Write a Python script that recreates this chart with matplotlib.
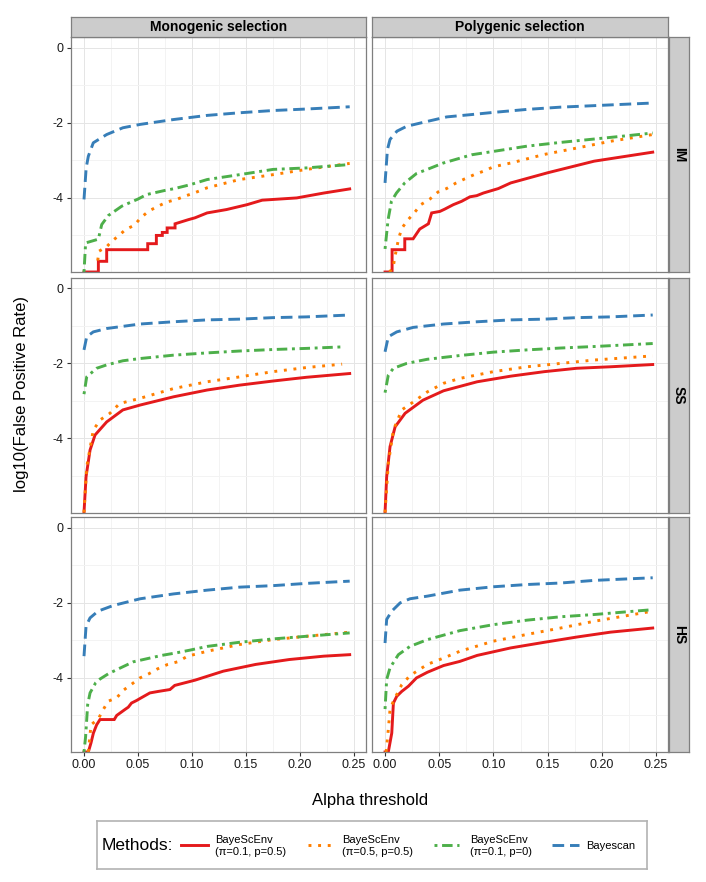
import numpy as np
import matplotlib
matplotlib.use('Agg')
import matplotlib.pyplot as plt
from matplotlib.lines import Line2D

plt.rcParams['font.family'] = ['Liberation Sans', 'DejaVu Sans']

NINF = -np.inf  # log10(0): drawn at the bottom edge of the panel

row_names = ['IM', 'SS', 'HS']
col_names = ['Monogenic selection', 'Polygenic selection']
method_keys = ['pi01_p05', 'pi05_p05', 'pi01_p0', 'bayescan']
method_labels = ['BayeScEnv\n(\u03c0=0.1, p=0.5)', 'BayeScEnv\n(\u03c0=0.5, p=0.5)',
                 'BayeScEnv\n(\u03c0=0.1, p=0)', 'Bayescan']

# ---- IM, monogenic ----
im_mono_pi01_p05_x = [0, 0.0133, 0.0133, 0.021, 0.021, 0.059, 0.059, 0.067, 0.067, 0.0725, 0.0725, 0.077,
                      0.077, 0.0843, 0.0843, 0.0966, 0.1028, 0.114, 0.132, 0.151, 0.165, 0.197, 0.222, 0.246]
im_mono_pi01_p05_y = [NINF, NINF, -5.69, -5.69, -5.38, -5.38, -5.22, -5.22, -5.0, -5.0, -4.92, -4.92,
                      -4.8, -4.8, -4.69, -4.58, -4.53, -4.4, -4.31, -4.18, -4.06, -4.0, -3.87, -3.76]
im_mono_pi05_p05_x = [0.0127, 0.0139, 0.021, 0.026, 0.0324, 0.0386, 0.0466, 0.0525, 0.06, 0.068, 0.0765,
                      0.0858, 0.0935, 0.101, 0.114, 0.144, 0.175, 0.206, 0.246]
im_mono_pi05_p05_y = [-5.67, -5.42, -5.3, -5.15, -5.0, -4.84, -4.73, -4.53, -4.35, -4.23, -4.11,
                      -4.04, -3.95, -3.88, -3.73, -3.51, -3.38, -3.24, -3.08]
im_mono_pi01_p0_x = [0, 0.0015, 0.0133, 0.0164, 0.0225, 0.035, 0.05, 0.058, 0.075, 0.084, 0.098,
                     0.114, 0.144, 0.175, 0.206, 0.246]
im_mono_pi01_p0_y = [NINF, -5.2, -5.1, -4.71, -4.47, -4.22, -4.03, -3.91, -3.8, -3.75, -3.65,
                     -3.51, -3.38, -3.24, -3.2, -3.11]
im_mono_bayescan_x = [0, 0.002, 0.004, 0.0086, 0.021, 0.036, 0.052, 0.083, 0.114, 0.144, 0.175, 0.206, 0.246]
im_mono_bayescan_y = [-4.04, -3.2, -2.89, -2.53, -2.31, -2.13, -2.04, -1.91, -1.8, -1.73, -1.67, -1.63, -1.57]

# ---- IM, polygenic ----
im_poly_pi01_p05_x = [0, 0.0065, 0.0065, 0.0182, 0.0182, 0.0259, 0.032, 0.040, 0.043, 0.0506, 0.055,
                      0.063, 0.0707, 0.0784, 0.0846, 0.0907, 0.1046, 0.116, 0.15, 0.193, 0.247]
im_poly_pi01_p05_y = [NINF, NINF, -5.38, -5.38, -5.09, -5.09, -4.83, -4.69, -4.4, -4.36, -4.3,
                      -4.18, -4.09, -3.97, -3.94, -3.87, -3.75, -3.6, -3.33, -3.02, -2.78]
im_poly_pi05_p05_x = [0.004, 0.0074, 0.0089, 0.0126, 0.0157, 0.0207, 0.0269, 0.033, 0.0414, 0.049, 0.0568,
                      0.065, 0.0737, 0.083, 0.0916, 0.1, 0.116, 0.147, 0.177, 0.208, 0.247]
im_poly_pi05_p05_y = [NINF, -5.87, -5.6, -5.07, -4.8, -4.6, -4.4, -4.18, -4.03, -3.84, -3.75,
                      -3.61, -3.49, -3.37, -3.28, -3.17, -3.07, -2.84, -2.67, -2.49, -2.31]
im_poly_pi01_p0_x = [0, 0.0028, 0.0059, 0.0105, 0.0182, 0.029, 0.0398, 0.0537, 0.0799, 0.1, 0.131,
                     0.162, 0.193, 0.224, 0.247]
im_poly_pi01_p0_y = [-5.36, -4.58, -4.09, -3.87, -3.6, -3.35, -3.23, -3.07, -2.85, -2.76, -2.62,
                     -2.52, -2.43, -2.34, -2.27]
im_poly_bayescan_x = [0, 0.0022, 0.0046, 0.011, 0.02, 0.039, 0.057, 0.079, 0.1, 0.131, 0.162, 0.193, 0.247]
im_poly_bayescan_y = [-3.6, -2.71, -2.44, -2.22, -2.09, -1.96, -1.84, -1.78, -1.72, -1.64, -1.58, -1.54, -1.47]

# ---- SS, monogenic ----
ss_mono_pi01_p05_x = [0, 0.0019, 0.0056, 0.0102, 0.021, 0.036, 0.052, 0.083, 0.114, 0.144, 0.175, 0.206, 0.246]
ss_mono_pi01_p05_y = [NINF, -5.02, -4.31, -3.91, -3.56, -3.24, -3.11, -2.89, -2.71, -2.58, -2.47, -2.37, -2.27]
ss_mono_pi05_p05_x = [0, 0.0025, 0.0086, 0.0148, 0.024, 0.033, 0.052, 0.083, 0.114, 0.144, 0.175, 0.206, 0.239]
ss_mono_pi05_p05_y = [NINF, -4.76, -3.78, -3.51, -3.33, -3.07, -2.93, -2.67, -2.49, -2.36, -2.22, -2.11, -2.02]
ss_mono_pi01_p0_x = [0, 0.0025, 0.0117, 0.021, 0.036, 0.052, 0.083, 0.114, 0.144, 0.175, 0.206, 0.239]
ss_mono_pi01_p0_y = [-2.82, -2.36, -2.13, -2.04, -1.93, -1.87, -1.78, -1.72, -1.67, -1.63, -1.6, -1.56]
ss_mono_bayescan_x = [0, 0.0025, 0.0086, 0.021, 0.052, 0.083, 0.114, 0.144, 0.175, 0.206, 0.246]
ss_mono_bayescan_y = [-1.64, -1.29, -1.16, -1.07, -0.95, -0.89, -0.84, -0.82, -0.78, -0.76, -0.71]

# ---- SS, polygenic ----
ss_poly_pi01_p05_x = [0, 0.0015, 0.0046, 0.0093, 0.0185, 0.035, 0.054, 0.085, 0.116, 0.147, 0.177, 0.208, 0.247]
ss_poly_pi01_p05_y = [NINF, -5.02, -4.22, -3.69, -3.33, -2.98, -2.73, -2.49, -2.34, -2.22, -2.13, -2.09, -2.03]
ss_poly_pi05_p05_x = [0, 0.003, 0.0077, 0.0154, 0.025, 0.039, 0.054, 0.069, 0.1, 0.131, 0.162, 0.193, 0.247]
ss_poly_pi05_p05_y = [NINF, -4.67, -3.78, -3.24, -3.05, -2.76, -2.53, -2.4, -2.22, -2.09, -2.0, -1.91, -1.8]
ss_poly_pi01_p0_x = [0, 0.003, 0.0077, 0.02, 0.039, 0.069, 0.1, 0.131, 0.162, 0.193, 0.247]
ss_poly_pi01_p0_y = [-2.78, -2.31, -2.13, -2.0, -1.89, -1.79, -1.7, -1.64, -1.59, -1.55, -1.47]
ss_poly_bayescan_x = [0, 0.003, 0.0108, 0.026, 0.054, 0.085, 0.116, 0.147, 0.177, 0.208, 0.247]
ss_poly_bayescan_y = [-1.69, -1.29, -1.16, -1.04, -0.95, -0.89, -0.84, -0.82, -0.78, -0.76, -0.71]

# ---- HS, monogenic ----
hs_mono_pi01_p05_x = [0, 0.004, 0.0065, 0.0087, 0.0117, 0.0148, 0.028, 0.0303, 0.038, 0.041, 0.044, 0.0488,
                      0.053, 0.061, 0.0688, 0.0796, 0.084, 0.1028, 0.129, 0.159, 0.19, 0.222, 0.246]
hs_mono_pi01_p05_y = [NINF, NINF, -5.73, -5.47, -5.25, -5.11, -5.11, -5.0, -4.84, -4.78, -4.67, -4.6,
                      -4.53, -4.4, -4.36, -4.31, -4.2, -4.06, -3.82, -3.64, -3.51, -3.42, -3.38]
hs_mono_pi05_p05_x = [0.004, 0.0065, 0.0133, 0.0179, 0.0225, 0.0303, 0.0364, 0.0435, 0.0518, 0.06, 0.068,
                      0.0775, 0.0867, 0.096, 0.114, 0.144, 0.175, 0.206, 0.246]
hs_mono_pi05_p05_y = [NINF, -5.25, -5.09, -4.84, -4.62, -4.53, -4.33, -4.18, -4.0, -3.89, -3.76,
                      -3.64, -3.57, -3.42, -3.29, -3.11, -2.98, -2.89, -2.78]
hs_mono_pi01_p0_x = [0, 0.0015, 0.0024, 0.0034, 0.0056, 0.0108, 0.0148, 0.0225, 0.0318, 0.0457, 0.058,
                     0.0719, 0.0858, 0.098, 0.114, 0.144, 0.175, 0.206, 0.246]
hs_mono_pi01_p0_y = [NINF, -5.56, -5.16, -4.71, -4.4, -4.13, -4.03, -3.89, -3.76, -3.57, -3.49,
                     -3.4, -3.33, -3.26, -3.16, -3.05, -2.96, -2.89, -2.8]
hs_mono_bayescan_x = [0, 0.0019, 0.0056, 0.013, 0.027, 0.052, 0.083, 0.114, 0.144, 0.175, 0.206, 0.246]
hs_mono_bayescan_y = [-3.42, -2.62, -2.4, -2.22, -2.07, -1.89, -1.76, -1.66, -1.58, -1.54, -1.48, -1.42]

# ---- HS, polygenic ----
hs_poly_pi01_p05_x = [0, 0.003, 0.0062, 0.0077, 0.0108, 0.0154, 0.0216, 0.029, 0.039, 0.054, 0.069,
                      0.085, 0.116, 0.147, 0.177, 0.208, 0.247]
hs_poly_pi01_p05_y = [NINF, NINF, -5.47, -4.67, -4.49, -4.36, -4.22, -4.0, -3.85, -3.67, -3.56,
                      -3.4, -3.2, -3.05, -2.91, -2.78, -2.67]
hs_poly_pi05_p05_x = [0.001, 0.003, 0.0046, 0.0077, 0.0154, 0.023, 0.039, 0.054, 0.069, 0.1, 0.131,
                      0.162, 0.193, 0.247]
hs_poly_pi05_p05_y = [NINF, -5.38, -4.84, -4.62, -4.18, -3.94, -3.64, -3.47, -3.29, -3.02, -2.84,
                      -2.67, -2.49, -2.22]
hs_poly_pi01_p0_x = [0, 0.0015, 0.0046, 0.0123, 0.023, 0.039, 0.069, 0.1, 0.131, 0.162, 0.193, 0.247]
hs_poly_pi01_p0_y = [-4.83, -4.04, -3.73, -3.38, -3.16, -2.98, -2.74, -2.58, -2.46, -2.37, -2.31, -2.18]
hs_poly_bayescan_x = [0, 0.0015, 0.0062, 0.0139, 0.023, 0.039, 0.069, 0.1, 0.131, 0.162, 0.193, 0.247]
hs_poly_bayescan_y = [-3.07, -2.44, -2.22, -2.0, -1.89, -1.82, -1.66, -1.57, -1.51, -1.47, -1.4, -1.33]

series = {}
g = globals()
for r in ['im', 'ss', 'hs']:
    for c in ['mono', 'poly']:
        for m in method_keys:
            series[(r, c, m)] = (g[f'{r}_{c}_{m}_x'], g[f'{r}_{c}_{m}_y'])

# ---- styling ----
colors = {'pi01_p05': '#E41A1C', 'pi05_p05': '#FF7F00', 'pi01_p0': '#4DAF4A', 'bayescan': '#377EB8'}
styles = {'pi01_p05': '-', 'pi05_p05': (0, (1, 2.3)), 'pi01_p0': (0, (1, 1.6, 3.6, 1.6)),
          'bayescan': (0, (4, 2))}
LW = 2.1
XLIM = (-0.01204, 0.26111)
YLIM = (-5.975, 0.29)
BORDER = '#7F7F7F'

W, H = 706, 882
fig = plt.figure(figsize=(W / 100, H / 100), dpi=100)


def px_axes(x0, y0, x1, y1):
    return fig.add_axes([x0 / W, 1 - y1 / H, (x1 - x0) / W, (y1 - y0) / H])


col_px = [(71, 366), (372, 668)]
row_px = [(37, 272), (277.5, 512.5), (517, 752)]

for i, r in enumerate(['im', 'ss', 'hs']):
    for j, c in enumerate(['mono', 'poly']):
        x0, x1 = col_px[j]
        y0, y1 = row_px[i]
        ax = px_axes(x0, y0, x1, y1)
        ax.set_xlim(*XLIM)
        ax.set_ylim(*YLIM)
        ax.set_xticks(np.arange(0, 0.2501, 0.05))
        ax.set_xticks(np.arange(0.025, 0.26, 0.05), minor=True)
        ax.set_yticks([-4, -2, 0])
        ax.set_yticks([-5, -3, -1], minor=True)
        ax.grid(which='major', color='#E5E5E5', lw=0.7)
        ax.grid(which='minor', color='#F3F3F3', lw=0.7)
        ax.set_axisbelow(True)
        for sp in ax.spines.values():
            sp.set_color(BORDER)
            sp.set_linewidth(0.9)
        ax.tick_params(which='minor', length=0)
        ax.tick_params(which='major', length=3.2, width=0.8, color='#333333',
                       labelsize=9, labelcolor='#1A1A1A', pad=2)
        if j == 0:
            ax.set_yticklabels(['-4', '-2', '0'])
        else:
            ax.tick_params(axis='y', which='major', length=0, labelleft=False)
        if i == 2:
            ax.set_xticklabels([f'{v:.2f}' for v in np.arange(0, 0.2501, 0.05)])
        else:
            ax.tick_params(axis='x', which='major', length=0, labelbottom=False)

        for m in method_keys:
            xs, ys = series[(r, c, m)]
            ys = np.array(ys, dtype=float)
            ys[np.isneginf(ys)] = YLIM[0]
            ax.plot(xs, ys, color=colors[m], linestyle=styles[m], lw=LW,
                    dash_capstyle='butt', solid_joinstyle='miter')

# top strips
for j, name in enumerate(col_names):
    x0, x1 = col_px[j]
    sax = px_axes(x0, 17, x1, 37)
    sax.set_xticks([])
    sax.set_yticks([])
    sax.set_facecolor('#CCCCCC')
    for sp in sax.spines.values():
        sp.set_color(BORDER)
        sp.set_linewidth(0.9)
    sax.text(0.5, 0.5, name, ha='center', va='center', fontsize=10, fontweight='bold',
             transform=sax.transAxes)

# right strips
for i, name in enumerate(row_names):
    y0, y1 = row_px[i]
    sax = px_axes(669, y0, 689, y1)
    sax.set_xticks([])
    sax.set_yticks([])
    sax.set_facecolor('#CCCCCC')
    for sp in sax.spines.values():
        sp.set_color(BORDER)
        sp.set_linewidth(0.9)
    sax.text(0.5, 0.5, name, ha='center', va='center', fontsize=10, fontweight='bold',
             rotation=-90, transform=sax.transAxes)

# axis titles
fig.text(22 / W, 1 - 394.5 / H, 'log10(False Positive Rate)', rotation=90,
         ha='center', va='center', fontsize=12)
fig.text(370 / W, 1 - 800 / H, 'Alpha threshold', ha='center', va='center', fontsize=12)

# legend, drawn in pixel space
lax = px_axes(97, 821, 647, 869)
lax.set_xlim(97, 647)
lax.set_ylim(869, 821)
lax.set_xticks([])
lax.set_yticks([])
for sp in lax.spines.values():
    sp.set_color('#B3B3B3')
    sp.set_linewidth(1.2)
lax.text(102, 845.5, 'Methods:', ha='left', va='center', fontsize=12.5)
key_x = [(181, 208), (308, 334), (434, 459), (552, 579)]
label_x = [215, 342, 470, 586]
for k, m in enumerate(method_keys):
    lax.add_line(Line2D(key_x[k], [845, 845], color=colors[m], linestyle=styles[m], lw=LW,
                        dash_capstyle='butt'))
    lax.text(label_x[k], 845.5, method_labels[k], ha='left', va='center', fontsize=8,
             linespacing=1.25)

fig.savefig('out.png', dpi=100)
